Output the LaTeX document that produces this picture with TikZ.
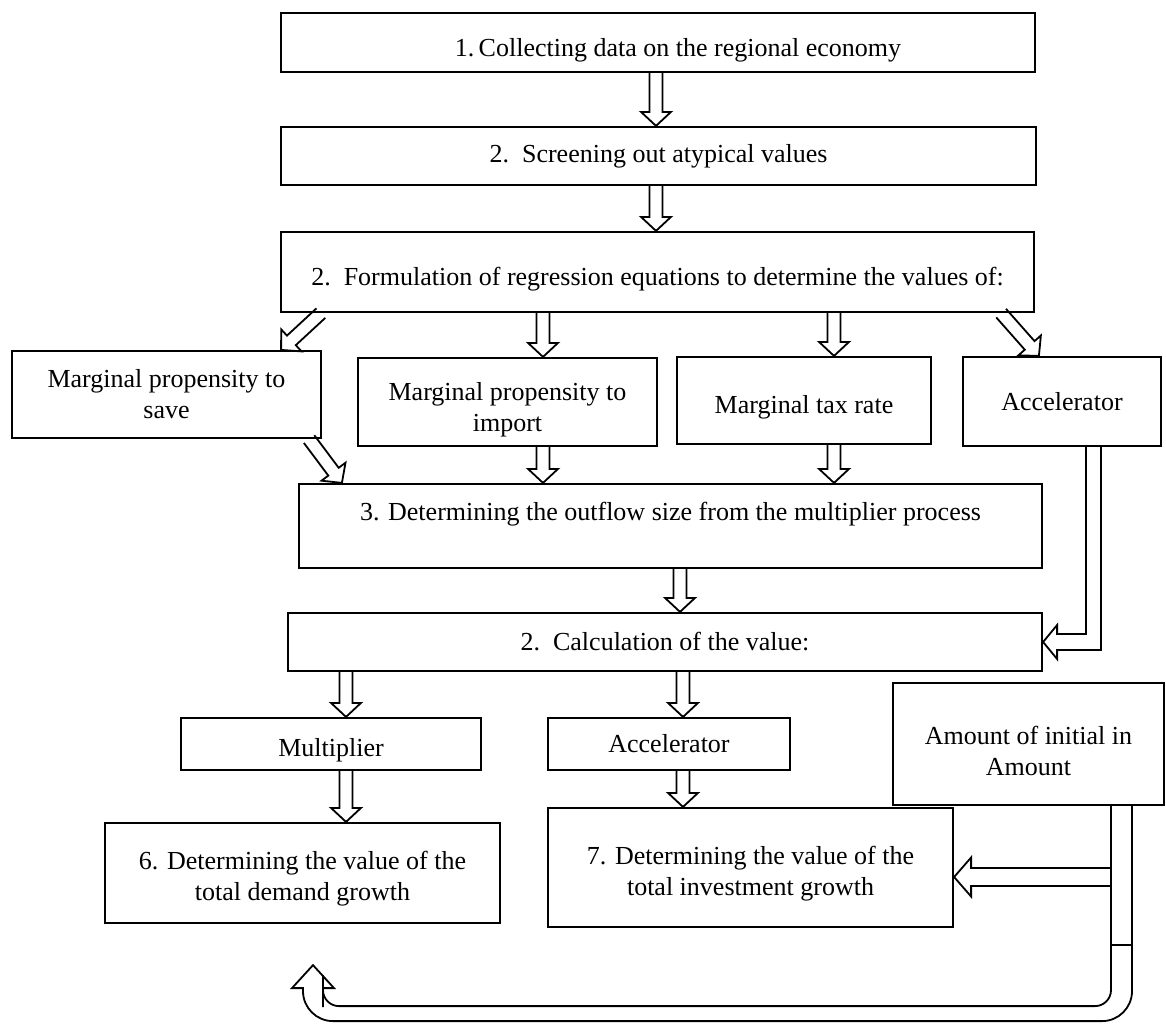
\documentclass[tikz,border=0pt]{standalone}
\usepackage{fontspec}
\setmainfont{Liberation Serif}
\usetikzlibrary{calc}

\newcommand{\tdrop}[1]{\rule{0pt}{#1}}
\tikzstyle{block} = [rectangle, draw, line width=1.1pt, text centered, align=center, inner sep=2pt, font=\fontsize{13}{15.5}\selectfont]
\tikzstyle{arrow} = [draw, line width=.9pt, line join=miter]
\tikzstyle{hollow} = [arrow, to path={
	($(\tikztostart)!3.25pt!90:(\tikztotarget)$)
	-- ($(\tikztotarget)!7pt!(\tikztostart)!3.25pt!-90:(\tikztostart)$)
	-- ($(\tikztotarget)!7pt!(\tikztostart)!7.5pt!-90:(\tikztostart)$)
	-- (\tikztotarget)
	-- ($(\tikztotarget)!7pt!(\tikztostart)!7.5pt!90:(\tikztostart)$)
	-- ($(\tikztotarget)!7pt!(\tikztostart)!3.25pt!90:(\tikztostart)$)
	-- ($(\tikztostart)!3.25pt!-90:(\tikztotarget)$)}]

\begin{document}
\begin{tikzpicture}[x=.5pt, y=-.5pt]
		\useasboundingbox (0,0) rectangle (1166,1023);
		\node[block, minimum width=377pt, minimum height=29.5pt] (col) at (658,42.5) {\tdrop{16.5pt}\hspace*{20pt}1.\,Collecting data on the regional economy};
		\node[block, minimum width=377.5pt, minimum height=29pt] (scr) at (658.5,156) {2.\enspace Screening out atypical values};
		\node[block, minimum width=376.5pt, minimum height=40pt] (reg) at (657.5,272) {\tdrop{16pt}2.\enspace Formulation of regression equations to determine the values of:};
		\node[block, minimum width=154.5pt, minimum height=43.5pt] (save) at (166.5,394.5) {Marginal propensity to\\save};
		\node[block, minimum width=149.5pt, minimum height=44pt] (imp) at (507.5,402) {\tdrop{16.5pt}Marginal propensity to\\import};
		\node[block, minimum width=127pt, minimum height=43.5pt] (tax) at (804,400.5) {\tdrop{15.5pt}Marginal tax rate};
		\node[block, minimum width=99pt, minimum height=44.5pt] (acc) at (1062,401.5) {Accelerator};
		\node[block, minimum width=371.5pt, minimum height=42pt, text depth=14.5pt] (out) at (670.5,526) {3. Determining the outflow size from the multiplier process};
		\node[block, minimum width=377pt, minimum height=29pt] (val) at (665,642) {2.\enspace Calculation of the value:};
		\node[block, minimum width=150pt, minimum height=26pt] (mult) at (331,744) {\tdrop{15.5pt}Multiplier};
		\node[block, minimum width=121pt, minimum height=26pt] (acc2) at (669,744) {Accelerator};
		\node[block, minimum width=135.5pt, minimum height=61pt] (amt) at (1028.5,744) {\tdrop{16.5pt}Amount of initial in\\Amount};
		\node[block, minimum width=197.5pt, minimum height=50pt] (dem) at (302.5,873) {\tdrop{14.5pt}6. Determining the value of the\\total demand growth};
		\node[block, minimum width=202.5pt, minimum height=59.5pt] (inv) at (750.5,867.5) {\tdrop{15.5pt}7. Determining the value of the\\total investment growth};

		\coordinate (x0) at ($(reg.north)+(-1.5,0)$);
		\coordinate (s1) at ($(reg.south west)+(41,0)$);
		\coordinate (s2) at ($(save.north east)+(-41,0)$);
		\coordinate (m1) at ($(imp.north)+(35.5,0)$);
		\coordinate (t1) at ($(tax.north)+(30,0)$);
		\coordinate (a1) at ($(reg.south east)+(-34,0)$);
		\coordinate (a2) at ($(acc.north west)+(77,0)$);
		\coordinate (s3) at ($(save.south east)+(-13,0)$);
		\coordinate (s4) at ($(out.north west)+(44,0)$);
		\coordinate (o1) at ($(out.south)+(9.5,0)$);
		\coordinate (c1) at ($(mult.north)+(15,0)$);
		\coordinate (c2) at ($(acc2.north)+(14,0)$);
		\coordinate (k1) at ($(acc.south)+(31.5,0)$);
		\coordinate (p1) at ($(amt.south)+(82.5,0)$);
		\coordinate (p2) at ($(amt.south)+(103.5,0)$);
		\coordinate (q1) at ($(inv.east)+(0,9.5)$);
		\coordinate (fb) at ($(dem.south)+(10.5,41)$);

		\path[hollow] (x0 |- col.south) to (x0 |- scr.north);
		\path[hollow] (x0 |- scr.south) to (x0);
		\path[hollow] (s1) to (s2);
		\path[hollow] (m1 |- reg.south) to (m1);
		\path[hollow] (t1 |- reg.south) to (t1);
		\path[hollow] (a1) to (a2);
		\path[hollow] (s3) to (s4);
		\path[hollow] (m1 |- imp.south) to (m1 |- out.north);
		\path[hollow] (t1 |- tax.south) to (t1 |- out.north);
		\path[hollow] (o1) to (o1 |- val.north);
		\path[hollow] (c1 |- val.south) to (c1);
		\path[hollow] (c2 |- val.south) to (c2);
		\path[hollow] (c1 |- mult.south) to (c1 |- dem.north);
		\path[hollow] (c2 |- acc2.south) to (c2 |- inv.north);

		% accelerator back into the calculation
		\path[arrow] ($(k1)+(-7.5,0)$) |- ($(val.east)+(14,-8)$) -- ++(0,-9) -- (val.east)
			-- ($(val.east)+(14,17)$) -- ++(0,-9) -| ($(k1)+(7.5,0)$);

		% initial amount
		\path[arrow] (p1) -- ++(0,139) -| (p2);
		\path[arrow] ($(p1 |- q1)+(0,-9)$) -- ($(q1)+(17,-9)$) -- ++(0,-10.5) -- (q1)
			-- ($(q1)+(17,19.5)$) -- ++(0,-10.5) -- ($(p1 |- q1)+(0,9)$);
		\path[arrow] ($(p1)+(0,139)$) [rounded corners=8pt] |- ($(fb)+(10,41)$) -- ($(fb)+(10,26)$)
			[sharp corners] -- ($(fb)+(10,23)$) -- ($(fb)+(21,23)$) -- (fb) -- ($(fb)+(-21,23)$) -- ($(fb)+(-10,23)$) -- ($(fb)+(-10,26)$)
			[rounded corners=15pt] |- ($(p2)+(0,215)$) [rounded corners=20pt] -- ($(p2)+(0,139)$);
	\end{tikzpicture}
\end{document}
